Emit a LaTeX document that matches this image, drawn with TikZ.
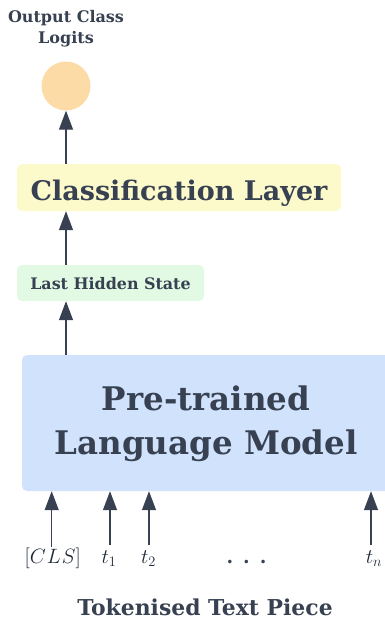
\documentclass[tikz,border=0pt]{standalone}
\usepackage{fontspec}
\setmainfont{DejaVu Serif}
\usetikzlibrary{arrows.meta}
\definecolor{ink}{HTML}{374151}
\definecolor{mathink}{HTML}{1F2937}
\definecolor{orangefill}{HTML}{FDDBA6}
\definecolor{yellowfill}{HTML}{FCFACB}
\definecolor{greenfill}{HTML}{E2F9E3}
\definecolor{bluefill}{HTML}{D0E2FC}
\tikzset{
  arr/.style={draw=ink, line width=1.3pt, -{Triangle[length=19pt,width=14pt]}},
  box/.style={rounded corners=5pt, draw=none, inner sep=0pt, text=ink, font=\bfseries},
  lbl/.style={text=ink, inner sep=0pt, anchor=base},
  tokfont/.style={text=mathink, font=\fontsize{22}{24}\selectfont},
}
\begin{document}
\begin{tikzpicture}[x=1pt,y=-1pt]
\useasboundingbox (0,0) rectangle (385,623);
% output
\node[lbl, align=center, font=\bfseries\fontsize{16}{21}\selectfont] (outtxt) at (66,44) {Output Class\\Logits};
\node[circle, fill=orangefill, minimum size=49pt, inner sep=0pt] (logit) at (66,86) {};
% classification
\node[box, fill=yellowfill, minimum width=324pt, minimum height=47pt, text height=25pt, text depth=0pt, font=\bfseries\fontsize{27}{30}\selectfont] (cls) at (179,187.5) {Classification Layer};
% last hidden
\node[box, fill=greenfill, minimum width=187pt, minimum height=36pt, text height=12pt, text depth=0pt, font=\bfseries\fontsize{15.9}{18}\selectfont] (lhs) at (110.5,283) {Last Hidden State};
% plm
\node[box, fill=bluefill, minimum width=368pt, minimum height=136pt, align=center, font=\bfseries\fontsize{32.5}{44}\selectfont] (plm) at (206,423) {\rule{0pt}{26pt}Pre-trained\\Language Model};
% arrows up
\draw[arr] (cls.north -| logit) -- (logit.south);
\draw[arr] (lhs.north -| logit) -- (cls.south -| logit);
\draw[arr] (plm.north -| logit) -- (lhs.south -| logit);
% tokens
\node[lbl, tokfont] (tcls) at (52.7,563) {$[C\mkern1mu L\mkern1mu S]$};
\node[lbl, tokfont] (t1) at (109,563) {$t_1$};
\node[lbl, tokfont] (t2) at (148.5,563) {$t_2$};
\node[lbl, text=ink, font=\bfseries\fontsize{19}{24}\selectfont] (dots) at (246.5,563) {.\hspace{10pt}.\hspace{10pt}.};
\node[lbl, tokfont] (tn) at (374,563) {$t_n$};
\coordinate (a0) at (51.7,547);
\coordinate (a1) at (110,545);
\coordinate (a2) at (149,545);
\coordinate (a3) at (371,545);
\draw[arr] (a0) -- (plm.south -| a0);
\draw[arr] (a1) -- (plm.south -| a1);
\draw[arr] (a2) -- (plm.south -| a2);
\draw[arr] (a3) -- (plm.south -| a3);
\node[lbl, font=\bfseries\fontsize{21.9}{24}\selectfont] (tok) at (205,615) {Tokenised Text Piece};
\end{tikzpicture}
\end{document}
